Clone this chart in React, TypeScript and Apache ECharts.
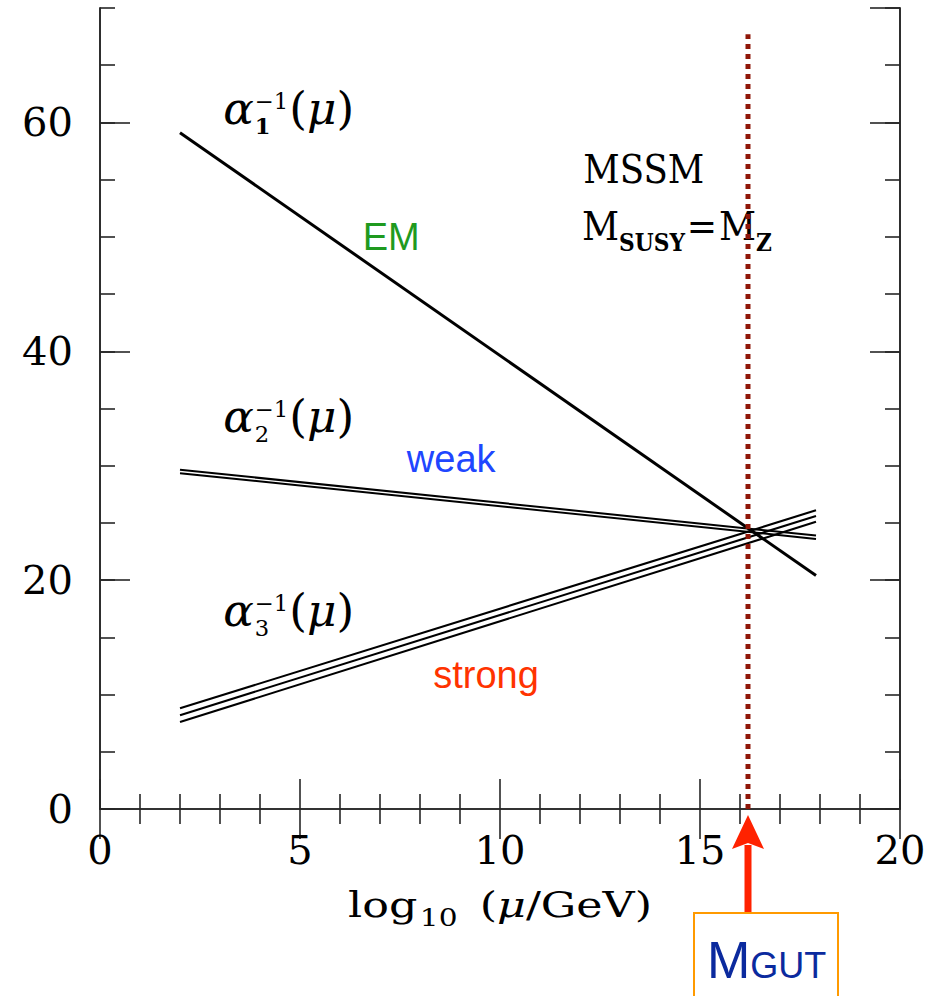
import React, { useEffect, useRef } from "react";
import * as echarts from "echarts";

// ---- data ----
const xRange = [0, 20];
const yRange = [0, 70];
const muEnds = [2.0, 17.9]; // log10(mu/GeV) where the curves start / end
const alpha1 = [59.1, 20.4];
const alpha2Upper = [29.65, 23.9];
const alpha2Lower = [29.35, 23.6];
const alpha3Upper = [8.8, 26.1];
const alpha3Middle = [8.2, 25.6];
const alpha3Lower = [7.6, 25.1];
const mGut = 16.2;
const gutLineTop = 67.7;

const SERIF = "DejaVu Serif";
const SANS = "Liberation Sans";
const FRAME = "#262626";

type Run = {
  t: string;
  size: number;
  italic?: boolean;
  bold?: boolean;
  dy?: number;
  stack?: boolean;
  gap?: number;
  family?: string;
  fill?: string;
};

const canvas = document.createElement("canvas");
const ctx = canvas.getContext("2d") as CanvasRenderingContext2D;

function formula(runs: Run[], left: number, baseline: number, targetWidth: number | null, color: string, family: string) {
  let cursor = 0;
  let prevStart = 0;
  const children: any[] = [];
  runs.forEach((r) => {
    const fam = r.family ?? family;
    ctx.font = `${r.italic ? "italic " : ""}${r.bold ? "bold " : ""}${r.size}px "${fam}"`;
    const w = ctx.measureText(r.t).width;
    let x: number;
    if (r.stack) {
      x = prevStart;
    } else {
      x = cursor + (r.gap || 0);
      prevStart = x;
    }
    children.push({
      type: "text",
      x,
      y: baseline + (r.dy || 0) - 0.35 * r.size,
      style: {
        text: r.t,
        fontSize: r.size,
        fontFamily: fam,
        fontStyle: r.italic ? "italic" : "normal",
        fontWeight: r.bold ? "bold" : "normal",
        fill: r.fill ?? color,
        align: "left",
        verticalAlign: "middle",
      },
    });
    cursor = Math.max(cursor, x + w);
  });
  const scaleX = targetWidth ? targetWidth / cursor : 1;
  return { type: "group", x: left, y: 0, scaleX, silent: true, children };
}

function line(name: string, ys: number[], width: number) {
  return {
    name,
    type: "line",
    data: [
      [muEnds[0], ys[0]],
      [muEnds[1], ys[1]],
    ],
    symbol: "none",
    lineStyle: { color: "#000", width, cap: "butt" },
    xAxisIndex: 0,
    yAxisIndex: 0,
    z: 3,
  };
}

function xAxisDef(position: string, showLabel: boolean) {
  return {
    type: "value",
    position,
    min: xRange[0],
    max: xRange[1],
    interval: 5,
    axisLine: { show: true, lineStyle: { color: FRAME, width: 1.6 } },
    axisTick: { show: true, inside: true, length: 30, lineStyle: { color: FRAME, width: 1.6 } },
    minorTick: { show: true, splitNumber: 5, length: 15, lineStyle: { color: FRAME, width: 1.6 } },
    splitLine: { show: false },
    axisLabel: {
      show: showLabel,
      fontFamily: SERIF,
      fontSize: 40,
      color: "#000",
      margin: 21,
    },
  };
}

function yAxisDef(position: string, interval: number, len: number, showLabel: boolean) {
  return {
    type: "value",
    position,
    min: yRange[0],
    max: yRange[1],
    interval,
    axisLine: { show: true, lineStyle: { color: FRAME, width: 1.6 } },
    axisTick: { show: true, inside: true, length: len, lineStyle: { color: FRAME, width: 1.6 } },
    splitLine: { show: false },
    axisLabel: {
      show: showLabel,
      showMaxLabel: false,
      fontFamily: SERIF,
      fontSize: 40,
      color: "#000",
      margin: 27,
    },
  };
}

export default function App() {
  const ref = useRef<HTMLDivElement>(null);
  useEffect(() => {
    if (!ref.current) return;
    const chart = echarts.init(ref.current, null, { renderer: "svg" });
    chart.setOption({
      animation: false,
      grid: { left: 100, top: 8, width: 800, height: 801, containLabel: false },
      xAxis: [xAxisDef("bottom", true), xAxisDef("top", false)],
      yAxis: [
        yAxisDef("left", 20, 30, true),
        yAxisDef("left", 5, 15, false),
        yAxisDef("right", 20, 30, false),
        yAxisDef("right", 5, 15, false),
      ],
      series: [
        line("alpha1", alpha1, 3),
        line("alpha2 upper", alpha2Upper, 2),
        line("alpha2 lower", alpha2Lower, 2),
        line("alpha3 upper", alpha3Upper, 2.1),
        line("alpha3 middle", alpha3Middle, 2.1),
        line("alpha3 lower", alpha3Lower, 2.1),
        {
          name: "M_GUT",
          type: "line",
          data: [
            [mGut, yRange[0]],
            [mGut, gutLineTop],
          ],
          symbol: "none",
          lineStyle: { color: "#8f1608", width: 5, type: [5, 5], cap: "butt" },
          z: 5,
        },
      ],
    });

    const px = (x: number, y: number) => chart.convertToPixel({ xAxisIndex: 0, yAxisIndex: 0 }, [x, y]) as number[];

    const alphaLabel = (sub: string, yBase: number) => {
      const p = px(3.08, yBase);
      return formula(
        [
          { t: "α", size: 44, italic: true },
          { t: "−1", size: 22, dy: -16, gap: 1 },
          { t: sub, size: 22, dy: 9, stack: true, bold: sub === "1" },
          { t: "(", size: 44, gap: 1 },
          { t: "μ", size: 44, italic: true },
          { t: ")", size: 44 },
        ],
        p[0],
        p[1],
        131,
        "#000",
        SERIF
      );
    };

    const gx = px(mGut, 0)[0];
    const axisBottom = px(0, 0)[1];
    const centerX = px(10, 0)[0];

    const title = formula(
      [
        { t: "log", size: 36 },
        { t: "10", size: 24, dy: 9, gap: 2 },
        { t: "(", size: 36, gap: 18 },
        { t: "μ", size: 36, italic: true },
        { t: "/GeV)", size: 36 },
      ],
      0,
      917,
      304,
      "#000",
      SERIF
    );
    title.x = centerX - 152;

    const emP = px(7.28, 48.85);
    const weakP = px(8.78, 29.45);
    const strongP = px(9.65, 10.57);
    const mssmP = px(12.08, 54.7);
    const msusyP = px(12.05, 49.7);

    const sansLabel = (text: string, p: number[], color: string, size: number) => ({
      type: "text",
      x: p[0],
      y: p[1] - 0.35 * size,
      silent: true,
      style: {
        text,
        fontSize: size,
        fontFamily: SANS,
        fill: color,
        align: "center",
        verticalAlign: "middle",
      },
    });

    chart.setOption({
      graphic: [
        alphaLabel("1", 59.8),
        alphaLabel("2", 32.9),
        alphaLabel("3", 15.9),
        title,
        sansLabel("EM", emP, "#1f9a1f", 38),
        sansLabel("weak", weakP, "#2046ff", 38),
        sansLabel("strong", strongP, "#ff3300", 38),
        formula([{ t: "MSSM", size: 40 }], mssmP[0], mssmP[1], 121, "#000", SERIF),
        formula(
          [
            { t: "M", size: 40 },
            { t: "SUSY", size: 24, bold: true, dy: 11 },
            { t: "=", size: 40, gap: 2 },
            { t: "M", size: 40, gap: 2 },
            { t: "Z", size: 24, bold: true, dy: 11 },
          ],
          msusyP[0],
          msusyP[1],
          190,
          "#000",
          SERIF
        ),
        // arrow pointing at M_GUT
        {
          type: "rect",
          silent: true,
          shape: { x: gx - 3.5, y: axisBottom + 36, width: 7, height: 913 - axisBottom - 36 },
          style: { fill: "#ff2200" },
        },
        {
          type: "polygon",
          silent: true,
          shape: {
            points: [
              [gx, axisBottom + 6],
              [gx + 16, axisBottom + 40],
              [gx, axisBottom + 34],
              [gx - 16, axisBottom + 40],
            ],
          },
          style: { fill: "#ff2200" },
        },
        // M_GUT box
        {
          type: "rect",
          silent: true,
          shape: { x: 694, y: 913, width: 144, height: 100 },
          style: { fill: "#fff", stroke: "#ff9a00", lineWidth: 2 },
        },
        formula(
          [
            { t: "M", size: 52 },
            { t: "GUT", size: 36 },
          ],
          707,
          978,
          null,
          "#0b2a9e",
          SANS
        ),
      ],
    });
    return () => chart.dispose();
  }, []);
  return <div ref={ref} style={{ position: "absolute", left: 0, top: 0, width: 943, height: 996 }} />;
}
